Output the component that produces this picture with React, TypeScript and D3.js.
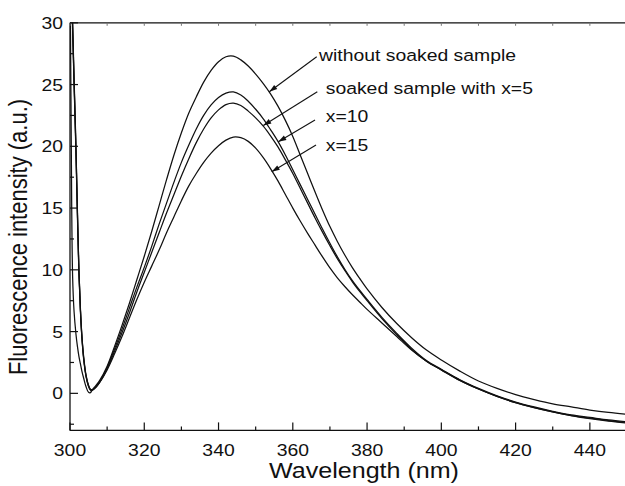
import React from 'react';
import * as d3 from 'd3';

// ---------------- data ----------------
const wavelengths = [
  300, 300.3, 300.7, 301.1, 301.6, 302, 302.4, 302.8, 303.2, 303.7, 304.3, 305, 305.5, 306, 307, 308,
  310, 312, 314, 316, 318, 320, 322, 324, 326, 328, 330, 332, 334, 336, 338, 340, 342, 344, 346, 348,
  350, 352, 354, 356, 358, 360, 362, 364, 366, 368, 370, 372, 374, 376, 378, 380,
  384, 388, 392, 396, 400, 405, 410, 415, 420, 425, 430, 435, 440, 445, 450,
];

const withoutSoaked = [
  36, 22, 9.5, 6.6, 4.8, 3.8, 3.0, 2.4, 1.8, 1.2, 0.55, 0.08, 0.06, 0.28, 0.65, 1.05,
  2.2, 3.8, 5.5, 7.3, 9.2, 11.1, 13.1, 15.2, 17.3, 19.3, 21.1, 22.7, 24.0, 25.2, 26.15, 26.85, 27.25, 27.3, 27.0, 26.5,
  25.85, 25.1, 24.25, 23.25, 22.1, 20.8, 19.3, 17.8, 16.3, 14.85, 13.5, 12.3, 11.2, 10.2, 9.3, 8.45,
  6.95, 5.65, 4.5, 3.5, 2.7, 1.8, 1.0, 0.4, -0.1, -0.5, -0.85, -1.1, -1.35, -1.55, -1.7,
];

const soakedX5 = [
  38, 34.5, 30, 25.5, 20, 14.8, 10, 6.9, 4.7, 2.9, 1.5, 0.65, 0.34, 0.3, 0.55, 0.95,
  2.1, 3.6, 5.2, 6.9, 8.6, 10.2, 11.9, 13.7, 15.4, 17.1, 18.7, 20.1, 21.4, 22.5, 23.35, 23.95, 24.3, 24.4, 24.15, 23.65,
  23.0, 22.25, 21.35, 20.4, 19.3, 18.1, 16.9, 15.7, 14.5, 13.3, 12.15, 11.05, 10.05, 9.15, 8.35, 7.6,
  6.15, 4.85, 3.65, 2.65, 1.95, 1.1, 0.4, -0.2, -0.7, -1.1, -1.45, -1.75, -1.95, -2.15, -2.3,
];

const soakedX10 = [
  38, 34.3, 29.8, 25.2, 19.8, 14.6, 9.9, 6.8, 4.6, 2.8, 1.45, 0.6, 0.3, 0.27, 0.52, 0.9,
  2.0, 3.4, 4.9, 6.5, 8.2, 9.8, 11.4, 13.0, 14.6, 16.1, 17.6, 19.0, 20.3, 21.4, 22.3, 22.95, 23.38, 23.5, 23.3, 22.85,
  22.3, 21.65, 20.85, 19.95, 18.9, 17.8, 16.6, 15.4, 14.2, 13.05, 11.95, 10.9, 9.95, 9.05, 8.25, 7.5,
  6.05, 4.75, 3.55, 2.6, 1.9, 1.05, 0.35, -0.25, -0.75, -1.15, -1.5, -1.8, -2.0, -2.2, -2.35,
];

const soakedX15 = [
  38, 34.0, 29.5, 25.0, 19.5, 14.4, 9.7, 6.7, 4.5, 2.7, 1.4, 0.55, 0.26, 0.24, 0.48, 0.88,
  1.9, 3.2, 4.6, 6.1, 7.6, 9.0, 10.3, 11.6, 13.0, 14.3, 15.6, 16.8, 17.8, 18.7, 19.45, 20.05, 20.5, 20.75, 20.7, 20.4,
  19.85, 19.1, 18.2, 17.2, 16.1, 15.0, 13.95, 12.95, 12.0, 11.05, 10.15, 9.35, 8.65, 8.0, 7.4, 6.8,
  5.7, 4.6, 3.5, 2.6, 1.9, 1.05, 0.35, -0.25, -0.75, -1.15, -1.5, -1.8, -2.05, -2.25, -2.4,
];

const seriesList = [withoutSoaked, soakedX5, soakedX10, soakedX15];

const xMajorTicks = [300, 320, 340, 360, 380, 400, 420, 440];
const xMinorTicks = [310, 330, 350, 370, 390, 410, 430, 450];
const yMajorTicks = [0, 5, 10, 15, 20, 25, 30];
const yMinorTicks = [-2.5, 2.5, 7.5, 12.5, 17.5, 22.5, 27.5];

const annotationLabels = ['without soaked sample', 'soaked sample with x=5', 'x=10', 'x=15'];
// label anchor (wavelength, intensity)
const annotationLabelAt = [[367.06, 26.9], [368.86, 24.21], [368.86, 21.95], [368.86, 19.66]];
// arrow start and tip (wavelength, intensity)
const arrowFrom = [[366.44, 27.25], [366.6, 24.42], [365.98, 22.13], [366.25, 20.1]];
const arrowTo = [[353.67, 24.42], [352.06, 21.68], [356.1, 20.37], [354.32, 17.94]];

const xTitle = 'Wavelength (nm)';
const yTitle = 'Fluorescence intensity (a.u.)';

// ---------------- chart ----------------
const W = 625;
const H = 486;
const FONT = 'Liberation Sans, Arial, Helvetica, sans-serif';
const SX = 1.14;

export default function App() {
  const x = d3.scaleLinear().domain([300, 450]).range([70, 627]);
  const y = d3.scaleLinear().domain([-3, 30]).range([430.4, 22.8]);
  const [x0, x1] = x.range();
  const [yb, yt] = y.range();

  const line = d3
    .line<number>()
    .x((_, i) => x(wavelengths[i]))
    .y((d) => y(d))
    .curve(d3.curveCatmullRom.alpha(0.5));

  const arrowHead = (fx: number, fy: number, tx: number, ty: number) => {
    const dx = tx - fx;
    const dy = ty - fy;
    const len = Math.hypot(dx, dy);
    const ux = dx / len;
    const uy = dy / len;
    const L = 8;
    const hw = 2.6;
    const bx = tx - ux * L;
    const by = ty - uy * L;
    return `M${tx},${ty}L${bx - uy * hw},${by + ux * hw}L${bx + uy * hw},${by - ux * hw}Z`;
  };

  return (
    <svg
      width={W}
      height={H}
      style={{ position: 'absolute', left: 0, top: 0, background: '#fff' }}
      fontFamily={FONT}
    >
      <defs>
        <clipPath id="plotClip">
          <rect x={x0} y={yt} width={x1 - x0} height={yb - yt} />
        </clipPath>
      </defs>
      <rect x={0} y={0} width={W} height={H} fill="#fff" />

      {/* curves */}
      <g clipPath="url(#plotClip)">
        {seriesList.map((s, i) => (
          <path key={i} d={line(s) || ''} fill="none" stroke="#111" strokeWidth={1.25} />
        ))}
      </g>

      {/* frame */}
      <line x1={x0} x2={x0} y1={yt} y2={yb} stroke="#111" strokeWidth={1.3} />
      <line x1={x0} x2={x1} y1={yb} y2={yb} stroke="#111" strokeWidth={1.3} />
      <line x1={x0} x2={x1} y1={yt} y2={yt} stroke="#111" strokeWidth={1.3} />

      {/* x ticks */}
      {xMajorTicks.map((t) => (
        <line key={'xm' + t} x1={x(t)} x2={x(t)} y1={yb} y2={yb - 8} stroke="#111" strokeWidth={1.2} />
      ))}
      {xMinorTicks.map((t) => (
        <line key={'xn' + t} x1={x(t)} x2={x(t)} y1={yb} y2={yb - 4} stroke="#111" strokeWidth={1.2} />
      ))}
      {[...xMajorTicks, ...xMinorTicks].map((t) => (
        <line key={'xt' + t} x1={x(t)} x2={x(t)} y1={yt} y2={yt + 3} stroke="#777" strokeWidth={1} />
      ))}
      {xMajorTicks.map((t) => (
        <g key={'xl' + t} transform={`translate(${x(t)},${456}) scale(${SX},1)`}>
          <text textAnchor="middle" fontSize={17} fill="#111">{t}</text>
        </g>
      ))}

      {/* y ticks */}
      {yMajorTicks.map((t) => (
        <line key={'ym' + t} x1={x0} x2={x0 + 8} y1={y(t)} y2={y(t)} stroke="#111" strokeWidth={1.2} />
      ))}
      {yMinorTicks.map((t) => (
        <line key={'yn' + t} x1={x0} x2={x0 + 4} y1={y(t)} y2={y(t)} stroke="#111" strokeWidth={1.2} />
      ))}
      {yMajorTicks.map((t) => (
        <g key={'yl' + t} transform={`translate(${63},${y(t) + 6}) scale(${SX},1)`}>
          <text textAnchor="end" fontSize={17} fill="#111">{t}</text>
        </g>
      ))}

      {/* titles */}
      <g transform={`translate(${(x0 + 658) / 2},${478}) scale(${SX},1)`}>
        <text textAnchor="middle" fontSize={22} fill="#111">{xTitle}</text>
      </g>
      <g transform={`translate(${27},${237}) scale(${SX},1) rotate(-90)`}>
        <text textAnchor="middle" fontSize={22} fill="#111">{yTitle}</text>
      </g>

      {/* annotations */}
      {annotationLabels.map((lab, i) => {
        const fx = x(arrowFrom[i][0]);
        const fy = y(arrowFrom[i][1]);
        const tx = x(arrowTo[i][0]);
        const ty = y(arrowTo[i][1]);
        return (
          <g key={'an' + i}>
            <line x1={fx} y1={fy} x2={tx} y2={ty} stroke="#111" strokeWidth={1.1} />
            <path d={arrowHead(fx, fy, tx, ty)} fill="#111" />
            <g transform={`translate(${x(annotationLabelAt[i][0])},${y(annotationLabelAt[i][1])}) scale(${SX},1)`}>
              <text fontSize={17} fill="#111">{lab}</text>
            </g>
          </g>
        );
      })}
    </svg>
  );
}
